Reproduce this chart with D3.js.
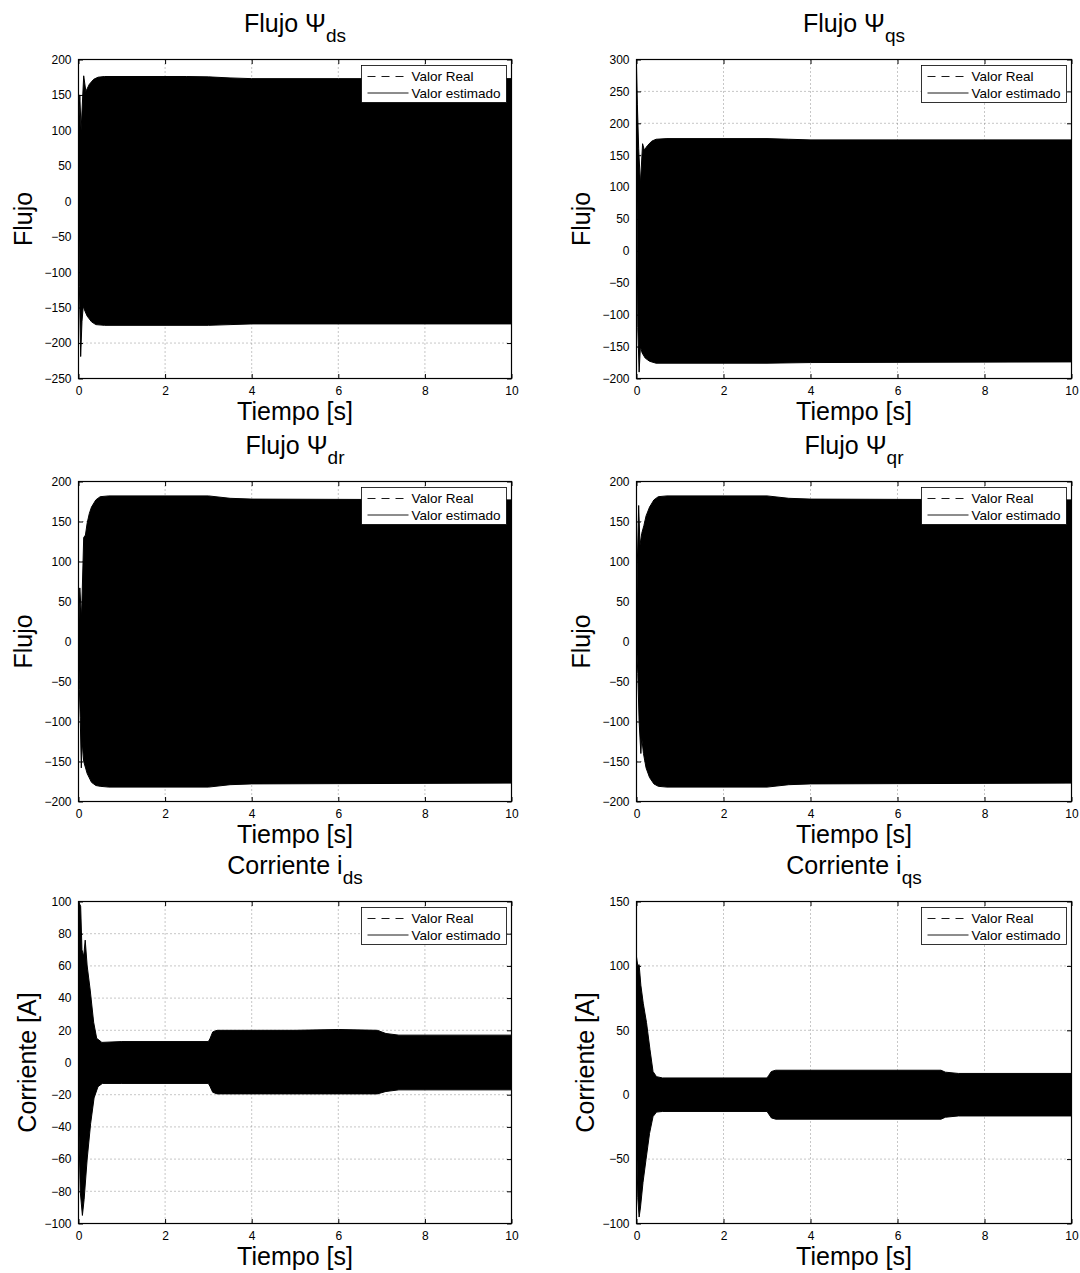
<!DOCTYPE html>
<html>
<head>
<meta charset="utf-8">
<script src="https://cdn.jsdelivr.net/npm/d3@7"></script>
<style>
  body { margin: 0; background: #fff; }
  svg { display: block; }
  text { font-family: "Liberation Sans", Arial, Helvetica, sans-serif; fill: #000; }
</style>
</head>
<body>
<svg id="fig" width="1080" height="1273"></svg>
<script>
// ---- data ---------------------------------------------------------------
const timeTicks = [0, 2, 4, 6, 8, 10];
const legendLabels = ["Valor Real", "Valor estimado"];

const titleMain = ["Flujo \u03A8", "Flujo \u03A8", "Flujo \u03A8", "Flujo \u03A8", "Corriente i", "Corriente i"];
const titleSub  = ["ds", "qs", "dr", "qr", "ds", "qs"];
const yLabels   = ["Flujo", "Flujo", "Flujo", "Flujo", "Corriente [A]", "Corriente [A]"];
const xLabel    = "Tiempo [s]";

const yTicksPsiDs = [-250, -200, -150, -100, -50, 0, 50, 100, 150, 200];
const yTicksPsiQs = [-200, -150, -100, -50, 0, 50, 100, 150, 200, 250, 300];
const yTicksPsiR  = [-200, -150, -100, -50, 0, 50, 100, 150, 200];
const yTicksIds   = [-100, -80, -60, -40, -20, 0, 20, 40, 60, 80, 100];
const yTicksIqs   = [-100, -50, 0, 50, 100, 150];

// Oscillation envelopes [time s, value]: upper and lower bounds of each trace
const psiDsUpper = [[0,100],[0.03,150],[0.06,100],[0.12,177],[0.17,155],[0.25,165],[0.35,172],[0.45,175],[0.6,176],[2.5,176],[3,175.5],[3.5,174],[4,173],[6,173],[10,173]];
const psiDsLower = [[0,50],[0.02,-120],[0.05,-219],[0.08,-170],[0.11,-148],[0.15,-155],[0.2,-162],[0.3,-170],[0.4,-174],[0.6,-175],[3,-175],[3.5,-174],[4,-173],[10,-173]];

const psiQsUpper = [[0,290],[0.02,230],[0.05,160],[0.09,105],[0.14,168],[0.18,158],[0.25,165],[0.35,172],[0.45,175],[0.7,176],[3,176],[3.5,175],[4,174],[10,174]];
const psiQsLower = [[0,270],[0.01,100],[0.03,-120],[0.06,-190],[0.09,-150],[0.13,-160],[0.2,-168],[0.3,-173],[0.45,-176],[3,-176],[4,-175],[10,-174]];

const psiDrUpper = [[0,0],[0.03,67],[0.07,30],[0.12,130],[0.16,133],[0.2,148],[0.25,160],[0.3,168],[0.4,177],[0.5,181],[0.7,182],[3,182],[3.5,179],[4,178],[10,177]];
const psiDrLower = [[0,0],[0.02,-60],[0.04,-95],[0.065,-158],[0.085,-125],[0.12,-150],[0.2,-165],[0.3,-176],[0.4,-180],[0.5,-181],[0.7,-182],[3,-182],[3.5,-179],[4,-178],[10,-177]];

const psiQrUpper = [[0,0],[0.02,100],[0.05,170],[0.08,120],[0.12,135],[0.17,145],[0.22,157],[0.3,168],[0.4,177],[0.5,181],[0.7,182],[3,182],[3.5,179],[4,178],[10,177]];
const psiQrLower = [[0,0],[0.03,-40],[0.06,-100],[0.1,-140],[0.12,-120],[0.16,-140],[0.22,-158],[0.3,-170],[0.4,-178],[0.5,-181],[0.7,-182],[3,-182],[3.5,-179],[4,-178],[10,-177]];

const idsUpper = [[0,100],[0.05,97],[0.08,70],[0.12,66],[0.155,76],[0.2,60],[0.27,45],[0.35,25],[0.42,15],[0.54,12.5],[1,13],[3,13],[3.04,15],[3.1,19],[3.2,20],[5,20],[6,20.5],[6.9,20],[7.1,18],[7.4,17],[10,17]];
const idsLower = [[0,-30],[0.04,-80],[0.09,-95],[0.13,-85],[0.2,-60],[0.28,-38],[0.36,-22],[0.45,-15],[0.55,-13],[1,-13],[3,-13],[3.04,-15],[3.1,-18.5],[3.2,-19.5],[5,-19.5],[6.9,-19.5],[7.1,-18],[7.4,-17],[10,-17]];

const iqsUpper = [[0,107],[0.03,100],[0.06,101],[0.1,85],[0.155,71],[0.23,56],[0.31,35],[0.38,18],[0.46,14],[0.6,13],[3,13],[3.04,15],[3.1,18],[3.2,19],[7,19],[7.1,17.5],[7.4,16.5],[10,16.5]];
const iqsLower = [[0,-30],[0.03,-80],[0.06,-95],[0.09,-88],[0.15,-68],[0.22,-50],[0.3,-30],[0.38,-17],[0.46,-13.5],[0.6,-13],[3,-13],[3.04,-15],[3.1,-18],[3.2,-19],[7,-19],[7.1,-17.5],[7.4,-16.5],[10,-16.5]];

// ---- layout -------------------------------------------------------------
const colX = [[78.5, 511.5], [636.5, 1071.5]];
const rowY = [[59.5, 378.5], [481.5, 801.5], [901.5, 1223.5]];

const panels = [
  { col: 0, row: 0, ticks: yTicksPsiDs, upper: psiDsUpper, lower: psiDsLower },
  { col: 1, row: 0, ticks: yTicksPsiQs, upper: psiQsUpper, lower: psiQsLower },
  { col: 0, row: 1, ticks: yTicksPsiR,  upper: psiDrUpper, lower: psiDrLower },
  { col: 1, row: 1, ticks: yTicksPsiR,  upper: psiQrUpper, lower: psiQrLower },
  { col: 0, row: 2, ticks: yTicksIds,   upper: idsUpper,   lower: idsLower },
  { col: 1, row: 2, ticks: yTicksIqs,   upper: iqsUpper,   lower: iqsLower }
];

const svg = d3.select("#fig");
const fmt = v => (v < 0 ? "\u2212" + Math.abs(v) : String(v));
const tickLen = 4.5;

panels.forEach((p, i) => {
  const [x0, x1] = colX[p.col];
  const [y0, y1] = rowY[p.row];
  const x = d3.scaleLinear().domain([timeTicks[0], timeTicks[timeTicks.length - 1]]).range([x0, x1]);
  const y = d3.scaleLinear().domain([p.ticks[0], p.ticks[p.ticks.length - 1]]).range([y1, y0]);
  const g = svg.append("g");

  // dotted grid
  const grid = g.append("g").attr("stroke", "#000").attr("stroke-width", 0.8)
    .attr("stroke-dasharray", "1,3").attr("opacity", 0.55);
  timeTicks.slice(1, -1).forEach(t => {
    grid.append("line").attr("x1", x(t)).attr("x2", x(t)).attr("y1", y0).attr("y2", y1);
  });
  p.ticks.slice(1, -1).forEach(v => {
    grid.append("line").attr("x1", x0).attr("x2", x1).attr("y1", y(v)).attr("y2", y(v));
  });

  // envelope of the fast oscillation (both traces overlap)
  const clipId = "clip" + i;
  svg.append("clipPath").attr("id", clipId).append("rect")
    .attr("x", x0).attr("y", y0).attr("width", x1 - x0).attr("height", y1 - y0);
  const outline = p.upper.concat(p.lower.slice().reverse());
  const line = d3.line().x(d => x(d[0])).y(d => y(d[1]));
  g.append("path").attr("clip-path", `url(#${clipId})`)
    .attr("d", line(outline) + "Z")
    .attr("fill", "#000").attr("stroke", "#000").attr("stroke-width", 1).attr("stroke-linejoin", "miter");

  // axes via d3 (inward ticks on all four sides)
  const axB = d3.axisBottom(x).tickValues(timeTicks).tickSizeInner(-tickLen).tickSizeOuter(0).tickPadding(8).tickFormat(fmt);
  const axT = d3.axisTop(x).tickValues(timeTicks).tickSizeInner(-tickLen).tickSizeOuter(0).tickFormat("");
  const axL = d3.axisLeft(y).tickValues(p.ticks).tickSizeInner(-tickLen).tickSizeOuter(0).tickPadding(7).tickFormat(fmt);
  const axR = d3.axisRight(y).tickValues(p.ticks).tickSizeInner(-tickLen).tickSizeOuter(0).tickFormat("");
  const styleAxis = sel => {
    sel.select(".domain").remove();
    sel.selectAll("line").attr("stroke", "#000").attr("stroke-width", 1);
    sel.selectAll("text").attr("font-size", 12).attr("fill", "#000")
      .attr("font-family", "'Liberation Sans', Arial, Helvetica, sans-serif");
  };
  g.append("g").attr("transform", `translate(0,${y1})`).call(axB).call(styleAxis);
  g.append("g").attr("transform", `translate(0,${y0})`).call(axT).call(styleAxis);
  g.append("g").attr("transform", `translate(${x0},0)`).call(axL).call(styleAxis);
  g.append("g").attr("transform", `translate(${x1},0)`).call(axR).call(styleAxis);

  // frame
  g.append("rect").attr("x", x0).attr("y", y0).attr("width", x1 - x0).attr("height", y1 - y0)
    .attr("fill", "none").attr("stroke", "#000").attr("stroke-width", 1.2);

  // legend
  const lw = 145, lh = 37;
  const lx = x1 - 5 - lw, ly = y0 + 6;
  const lg = g.append("g").attr("transform", `translate(${lx},${ly})`);
  lg.append("rect").attr("width", lw).attr("height", lh).attr("fill", "#fff")
    .attr("stroke", "#000").attr("stroke-width", 0.8);
  legendLabels.forEach((lab, k) => {
    const cy = 11 + k * 16.5;
    lg.append("line").attr("x1", 6).attr("x2", 47).attr("y1", cy).attr("y2", cy)
      .attr("stroke", "#000").attr("stroke-width", 0.9)
      .attr("stroke-dasharray", k === 0 ? "8,6" : null);
    lg.append("text").attr("x", 50).attr("y", cy).attr("dy", "0.35em")
      .attr("font-size", 13.5).text(lab);
  });

  // title with subscript
  const cx = (x0 + x1) / 2;
  const t = g.append("text").attr("x", cx).attr("y", y0 - 28).attr("text-anchor", "middle").attr("font-size", 25);
  t.append("tspan").text(titleMain[i]);
  t.append("tspan").attr("dy", 10).attr("font-size", 19).text(titleSub[i]);

  // axis labels
  g.append("text").attr("x", cx).attr("y", y1 + 41).attr("text-anchor", "middle")
    .attr("font-size", 25).text(xLabel);
  const yOff = yLabels[i] === "Flujo" ? 47 : 43;
  g.append("text").attr("transform", `translate(${x0 - yOff},${(y0 + y1) / 2}) rotate(-90)`)
    .attr("text-anchor", "middle").attr("font-size", 25).text(yLabels[i]);
});
</script>
</body>
</html>
